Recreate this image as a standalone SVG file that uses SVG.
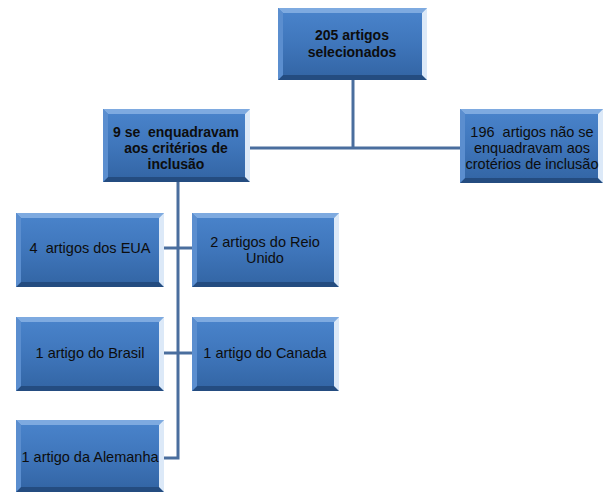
<svg xmlns="http://www.w3.org/2000/svg" width="604" height="493" viewBox="0 0 604 493">
<defs>
<linearGradient id="fillg" x1="0" y1="0" x2="0" y2="1">
<stop offset="0" stop-color="#4a84cc"/>
<stop offset="0.5" stop-color="#3f76bb"/>
<stop offset="1" stop-color="#3264a3"/>
</linearGradient>
<style>
.base{fill:url(#fillg)}
.top{fill:#7eaae0}
.bot{fill:#244c80}
.lft{fill:#5b8ecf}
.rgt{fill:#dce9f8}
.t{font-family:"Liberation Sans",Arial,sans-serif;font-size:14.5px;fill:#0d0d0d;text-anchor:middle;white-space:pre}
.b{font-weight:bold;font-size:14px}
.conn{fill:none;stroke:#4a6e9e;stroke-width:3}
</style>
</defs>
<rect width="604" height="493" fill="#fff"/>
<g id="connectors">
<path class="conn" d="M353 80 V148"/>
<path class="conn" d="M250 148 H460"/>
<path class="conn" d="M178 182 V458 H164"/>
<path class="conn" d="M164 248 H192"/>
<path class="conn" d="M164 353 H192"/>
</g>
<g id="n1">
<rect class="base" x="278" y="8" width="149" height="72"/>
<polygon class="top" points="278,8 427,8 422,13 283,13"/>
<polygon class="bot" points="278,80 427,80 422,75 283,75"/>
<polygon class="lft" points="278,8 283,13 283,75 278,80"/>
<polygon class="rgt" points="427,8 422,13 422,75 427,80"/>
<text class="t b" x="352" y="40">205 artigos</text>
<text class="t b" x="352" y="57">selecionados</text>
</g>
<g id="n2">
<rect class="base" x="103" y="109" width="147" height="73"/>
<polygon class="top" points="103,109 250,109 245,114 108,114"/>
<polygon class="bot" points="103,182 250,182 245,177 108,177"/>
<polygon class="lft" points="103,109 108,114 108,177 103,182"/>
<polygon class="rgt" points="250,109 245,114 245,177 250,182"/>
<text class="t b" x="176" y="137">9 se  enquadravam</text>
<text class="t b" x="176" y="153">aos critérios de</text>
<text class="t b" x="176" y="169">inclusão</text>
</g>
<g id="n3">
<rect class="base" x="460" y="109" width="143" height="74"/>
<polygon class="top" points="460,109 603,109 598,114 465,114"/>
<polygon class="bot" points="460,183 603,183 598,178 465,178"/>
<polygon class="lft" points="460,109 465,114 465,178 460,183"/>
<polygon class="rgt" points="603,109 598,114 598,178 603,183"/>
<text class="t" x="532" y="137">196  artigos não se</text>
<text class="t" x="532" y="153">enquadravam aos</text>
<text class="t" x="532" y="169">crotérios de inclusão</text>
</g>
<g id="n4">
<rect class="base" x="16" y="213" width="148" height="74"/>
<polygon class="top" points="16,213 164,213 159,218 21,218"/>
<polygon class="bot" points="16,287 164,287 159,282 21,282"/>
<polygon class="lft" points="16,213 21,218 21,282 16,287"/>
<polygon class="rgt" points="164,213 159,218 159,282 164,287"/>
<text class="t" x="90" y="253">4  artigos dos EUA</text>
</g>
<g id="n5">
<rect class="base" x="192" y="213" width="147" height="74"/>
<polygon class="top" points="192,213 339,213 334,218 197,218"/>
<polygon class="bot" points="192,287 339,287 334,282 197,282"/>
<polygon class="lft" points="192,213 197,218 197,282 192,287"/>
<polygon class="rgt" points="339,213 334,218 334,282 339,287"/>
<text class="t" x="265" y="247">2 artigos do Reio</text>
<text class="t" x="265" y="263">Unido</text>
</g>
<g id="n6">
<rect class="base" x="16" y="317" width="148" height="74"/>
<polygon class="top" points="16,317 164,317 159,322 21,322"/>
<polygon class="bot" points="16,391 164,391 159,386 21,386"/>
<polygon class="lft" points="16,317 21,322 21,386 16,391"/>
<polygon class="rgt" points="164,317 159,322 159,386 164,391"/>
<text class="t" x="90" y="358">1 artigo do Brasil</text>
</g>
<g id="n7">
<rect class="base" x="192" y="317" width="147" height="74"/>
<polygon class="top" points="192,317 339,317 334,322 197,322"/>
<polygon class="bot" points="192,391 339,391 334,386 197,386"/>
<polygon class="lft" points="192,317 197,322 197,386 192,391"/>
<polygon class="rgt" points="339,317 334,322 334,386 339,391"/>
<text class="t" x="265" y="358">1 artigo do Canada</text>
</g>
<g id="n8">
<rect class="base" x="16" y="420" width="148" height="72"/>
<polygon class="top" points="16,420 164,420 159,425 21,425"/>
<polygon class="bot" points="16,492 164,492 159,487 21,487"/>
<polygon class="lft" points="16,420 21,425 21,487 16,492"/>
<polygon class="rgt" points="164,420 159,425 159,487 164,492"/>
<text class="t" x="90" y="462">1 artigo da Alemanha</text>
</g>
</svg>
